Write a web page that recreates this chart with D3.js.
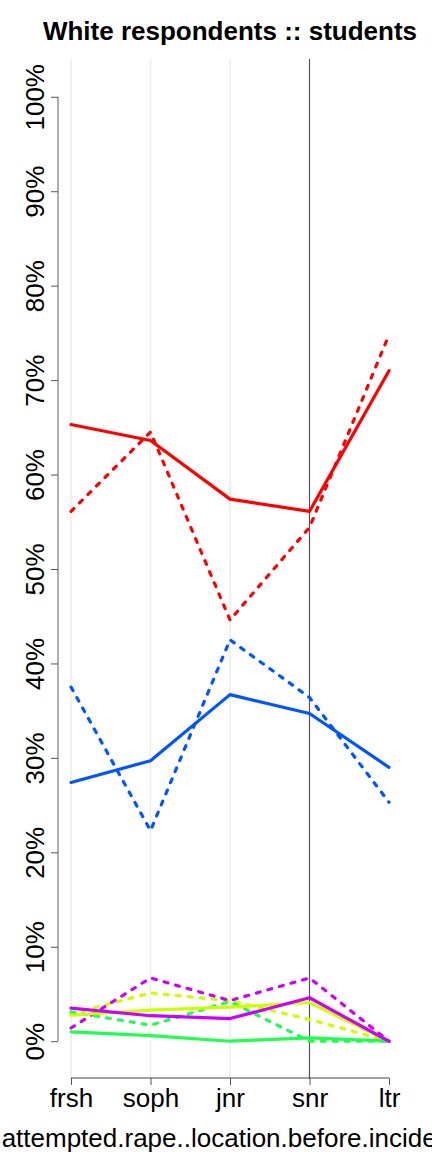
<!DOCTYPE html>
<html>
<head>
<meta charset="utf-8">
<script src="https://cdn.jsdelivr.net/npm/d3@7/dist/d3.min.js"></script>
<style>
  html, body { margin: 0; padding: 0; background: #fff; }
  svg { display: block; font-family: "Liberation Sans", Arial, sans-serif; }
</style>
</head>
<body>
<svg id="chart" width="432" height="1152"></svg>
<script>
const categories = ["frsh", "soph", "jnr", "snr", "ltr"];
const yTicks = [0, 10, 20, 30, 40, 50, 60, 70, 80, 90, 100];
const seriesNames = ["red", "yellow", "green", "blue", "purple"];
const seriesColors = ["#FF0000", "#CCFF00", "#1EFF4E", "#0055FF", "#CC00FF"];

// solid series (values in %)
const redSolid    = [65.3, 63.6, 57.4, 56.1, 71.0];
const yellowSolid = [2.75, 3.3, 3.6, 4.1, 0];
const greenSolid  = [1.0, 0.6, 0, 0.35, 0];
const blueSolid   = [27.4, 29.7, 36.7, 34.7, 29.0];
const purpleSolid = [3.5, 2.7, 2.4, 4.6, 0];

// dotted series (values in %)
const redDotted    = [56.1, 64.5, 44.6, 54.4, 74.8];
const yellowDotted = [2.9, 5.1, 4.3, 2.3, 0];
const greenDotted  = [3.1, 1.7, 4.2, 0, 0];
const blueDotted   = [37.5, 22.3, 42.5, 36.4, 25.3];
const purpleDotted = [1.4, 6.7, 4.3, 6.7, 0];

const solidSeries = [redSolid, yellowSolid, greenSolid, blueSolid, purpleSolid];
const dottedSeries = [redDotted, yellowDotted, greenDotted, blueDotted, purpleDotted];

const title = "White respondents :: students";
const xLabel = "attempted.rape..location.before.incident";

const svg = d3.select("#chart");
const plotTop = 59, plotBottom = 1079, plotLeft = 58, plotRight = 402;

const x = d3.scalePoint().domain(categories).range([71, 389]);
const y = d3.scaleLinear().domain([-4, 104]).range([plotBottom, plotTop]);

// grid lines for frsh, soph, jnr
svg.append("g").selectAll("line")
  .data(categories.slice(0, 3))
  .join("line")
  .attr("x1", d => x(d)).attr("x2", d => x(d))
  .attr("y1", plotTop).attr("y2", plotBottom)
  .attr("stroke", "#efeee0").attr("stroke-width", 1.5);

// snr reference line
svg.append("line")
  .attr("x1", x("snr")).attr("x2", x("snr"))
  .attr("y1", plotTop).attr("y2", plotBottom)
  .attr("stroke", "#555").attr("stroke-width", 1.2);

const line = d3.line().x((d, i) => x(categories[i])).y(d => y(d));

// dotted lines
dottedSeries.forEach((s, k) => {
  svg.append("path").datum(s)
    .attr("d", line)
    .attr("fill", "none")
    .attr("stroke", seriesColors[k])
    .attr("stroke-width", 3.2)
    .attr("stroke-linecap", "round")
    .attr("stroke-dasharray", "4,8");
});
// solid lines
solidSeries.forEach((s, k) => {
  svg.append("path").datum(s)
    .attr("d", line)
    .attr("fill", "none")
    .attr("stroke", seriesColors[k])
    .attr("stroke-width", 3.2)
    .attr("stroke-linejoin", "round")
    .attr("stroke-linecap", "round");
});

// Y axis
const yAxis = svg.append("g").attr("transform", `translate(${plotLeft},0)`)
  .call(d3.axisLeft(y).tickValues(yTicks).tickSize(7).tickFormat(d => d + "%"));
yAxis.select(".domain").attr("d", `M0,${y(0)}V${y(100)}`).attr("stroke", "#777").attr("stroke-width", 1.2);
yAxis.selectAll(".tick line").attr("stroke", "#555");
yAxis.selectAll(".tick text")
  .attr("x", null).attr("dy", null)
  .attr("transform", "translate(-14,0) rotate(-90)")
  .attr("text-anchor", "middle")
  .attr("fill", "#000")
  .style("font-size", "26px")
  .style("font-family", "'Liberation Sans', Arial, sans-serif");

// X axis
const xAxis = svg.append("g").attr("transform", `translate(0,${plotBottom - 1})`)
  .call(d3.axisBottom(x).tickSize(7).tickSizeOuter(0));
xAxis.select(".domain").attr("d", `M${x("frsh")},0H${x("ltr")}`).attr("stroke", "#444").attr("stroke-width", 1.2);
xAxis.selectAll(".tick line").attr("stroke", "#555");
xAxis.selectAll(".tick text")
  .attr("y", 29).attr("dy", null)
  .attr("fill", "#000")
  .style("font-size", "26px")
  .style("font-family", "'Liberation Sans', Arial, sans-serif");

// title
svg.append("text")
  .attr("x", (plotLeft + plotRight) / 2).attr("y", 40)
  .attr("text-anchor", "middle")
  .style("font-size", "26px").style("font-weight", "bold")
  .text(title);

// x label (cut off at both edges, as in the reference)
svg.append("text")
  .attr("x", (plotLeft + plotRight) / 2).attr("y", 1147)
  .attr("text-anchor", "middle")
  .style("font-size", "26px")
  .text(xLabel);
</script>
</body>
</html>
